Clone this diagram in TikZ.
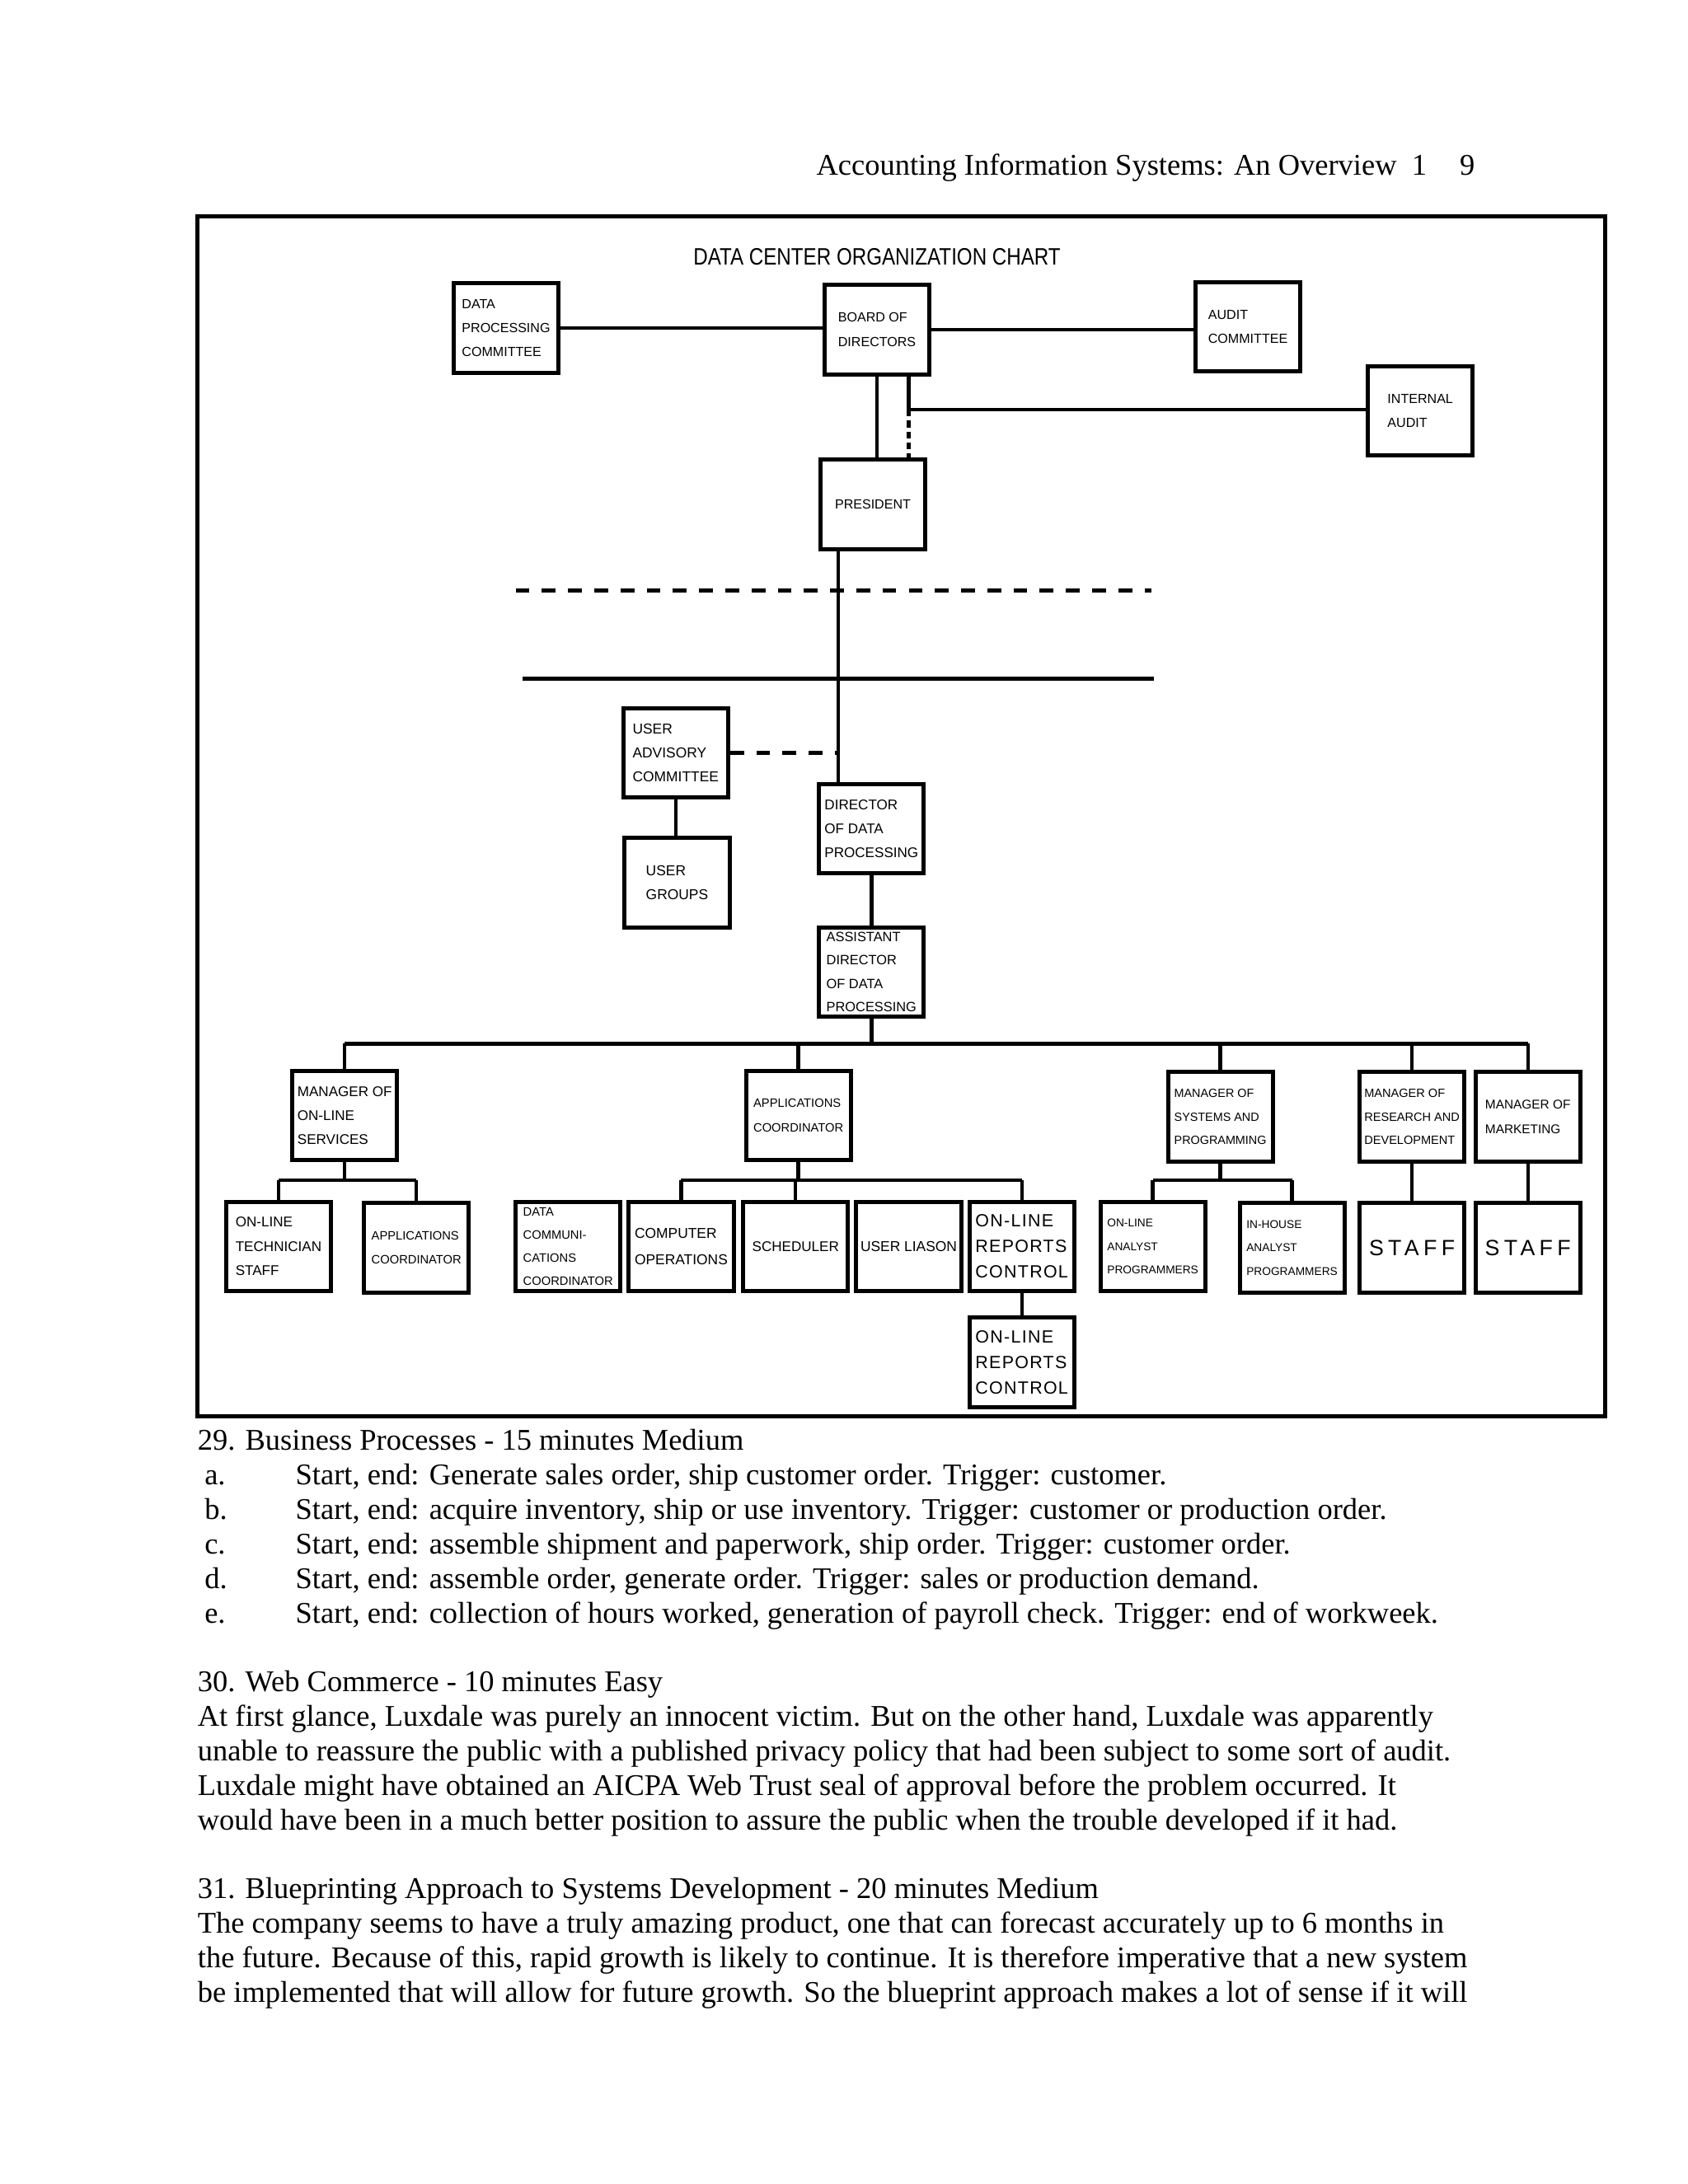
\documentclass[tikz,border=0pt]{standalone}
\usepackage{fontspec}
\usepackage{graphicx}
\setmainfont{Liberation Serif}
\newfontfamily\chartfont{Liberation Sans}
\newfontfamily\chartwide[LetterSpace=6]{Liberation Sans}
\newfontfamily\staffwide[LetterSpace=20]{Liberation Sans}
\usetikzlibrary{positioning,calc}

\tikzset{
  orgbox/.style={draw, line width=1.5pt, minimum width=38pt, minimum height=32.5pt,
    inner xsep=1.5pt, inner ysep=1pt, align=left, font=\chartfont\fontsize{#1}{8.75}\selectfont},
  orgbox/.default=4.8,
  orgbig/.style={orgbox, font=\chartwide\fontsize{6.4}{9.3}\selectfont},
  orgstaff/.style={orgbox, font=\staffwide\fontsize{8}{9}\selectfont},
  link/.style={line width=1.3pt},
  dashlink/.style={line width=1.5pt, dash pattern=on 5pt off 4.5pt},
  bodytext/.style={anchor=base west, inner sep=0pt, font=\fontsize{10.9}{12.5}\selectfont},
}

\begin{document}
\begin{tikzpicture}[x=0.5pt,y=-0.5pt]
\useasboundingbox (0,0) rectangle (1224,1584);

% 머리말
\node[bodytext, anchor=base east] (runhead) at (1070,127) {Accounting Information Systems: An Overview\ \ 1\hspace{12pt}9};

% 도표 틀과 제목
\draw[line width=1.5pt] (143,157) rectangle (1164,1027);
\node[font=\chartfont\fontsize{8.6}{10}\selectfont] (title) at (636,186) {\scalebox{0.84}[1]{DATA CENTER ORGANIZATION CHART}};

% 상단: 이사회와 위원회
\node[orgbox] (dpc) at (367,238) {DATA\\PROCESSING\\COMMITTEE};
\node[orgbox] (board) at (636,239) {BOARD OF\\DIRECTORS};
\node[orgbox] (audit) at (905,237) {AUDIT\\COMMITTEE};
\node[orgbox] (intaudit) at (1030,298) {INTERNAL\\AUDIT};
\node[orgbox] (pres) at (633,366) {PRESIDENT};

\coordinate (bj) at (659,297);
\coordinate (spine) at (608,500);
\draw[link] (dpc.east) -- (dpc.east -| board.west);
\draw[link] (board.east) -- (board.east -| audit.west);
\draw[link] (board.south) -- (board.south |- pres.north);
\draw[link] (bj |- board.south) -- (bj) -- (bj -| intaudit.west);
\draw[link, dash pattern=on 2.5pt off 1.5pt] (bj) -- (bj |- pres.north);

% 가로 구분선 (점선, 실선)
\coordinate (dashL) at (374,428);
\coordinate (dashR) at (835,428);
\coordinate (lineL) at (379,492);
\coordinate (lineR) at (837,492);
\draw[dashlink] (dashL) -- (dashR);
\draw[line width=1.5pt] (lineL) -- (lineR);

% 중간: 이사 / 부이사
\node[orgbox=5.2] (uac) at (490,546) {USER\\ADVISORY\\COMMITTEE};
\node[orgbox=5.2] (ugroups) at (491,640) {USER\\GROUPS};
\node[orgbox=5.1] (dir) at (632,601) {DIRECTOR\\OF DATA\\PROCESSING};
\node[orgbox=4.9, inner ysep=0pt, font=\chartfont\fontsize{4.9}{8.5}\selectfont] (asst) at (632,705) {ASSISTANT\\DIRECTOR\\OF DATA\\PROCESSING};

\draw[link] (pres.south -| spine) -- (dir.north -| spine);
\draw[dashlink] (uac.east) -- (uac.east -| spine);
\draw[link] (uac.south) -- (uac.south |- ugroups.north);
\draw[link] (dir.south) -- (dir.south |- asst.north);

% 관리자 단계
\node[orgbox=5.1] (mgrol) at (250,809) {MANAGER OF\\ON-LINE\\SERVICES};
\node[orgbox=4.4] (appco) at (579,809) {APPLICATIONS\\COORDINATOR};
\node[orgbox=4.3, font=\chartfont\fontsize{4.3}{8.5}\selectfont] (mgrsys) at (885,810) {MANAGER OF\\SYSTEMS AND\\PROGRAMMING};
\node[orgbox=4.35, font=\chartfont\fontsize{4.35}{8.5}\selectfont] (mgrrd) at (1024,810) {MANAGER OF\\RESEARCH AND\\DEVELOPMENT};
\node[orgbox=4.6] (mgrmkt) at (1108,810) {MANAGER OF\\MARKETING};

\coordinate (busy) at (0,757);
\draw[link] (asst.south) -- (asst.south |- busy);
\draw[link] (mgrol.north |- busy) -- (mgrmkt.north |- busy);
\foreach \m in {mgrol,appco,mgrsys,mgrrd,mgrmkt}
  \draw[link] (\m.north |- busy) -- (\m.north);

% 하단: 실무 단계
\node[orgbox=5.1] (olts) at (202,904) {ON-LINE\\TECHNICIAN\\STAFF};
\node[orgbox=4.4] (appco2) at (302,905) {APPLICATIONS\\COORDINATOR};
\node[orgbox=4.4, inner ysep=0pt, font=\chartfont\fontsize{4.4}{8.4}\selectfont] (dcc) at (412,904) {DATA\\COMMUNI-\\CATIONS\\COORDINATOR};
\node[orgbox=5.2, font=\chartfont\fontsize{5.2}{9.5}\selectfont] (compops) at (494,904) {COMPUTER\\OPERATIONS};
\node[orgbox=5.1] (sched) at (577,904) {SCHEDULER};
\node[orgbox=5.2] (liason) at (659,904) {USER LIASON};
\node[orgbig] (olrc) at (741,904) {ON-LINE\\REPORTS\\CONTROL};
\node[orgbig] (olrc2) at (741,988) {ON-LINE\\REPORTS\\CONTROL};
\node[orgbox=4.1, font=\chartfont\fontsize{4.1}{8.5}\selectfont] (olap) at (836,904) {ON-LINE\\ANALYST\\PROGRAMMERS};
\node[orgbox=4.1, font=\chartfont\fontsize{4.1}{8.5}\selectfont] (ihap) at (937,905) {IN-HOUSE\\ANALYST\\PROGRAMMERS};
\node[orgstaff] (staffrd) at (1024,905) {STAFF};
\node[orgstaff] (staffmkt) at (1108,905) {STAFF};

\coordinate (suby) at (0,856);
\draw[link] (mgrol.south) -- (mgrol.south |- suby);
\draw[link] (olts.north |- suby) -- (appco2.north |- suby);
\foreach \c in {olts,appco2}
  \draw[link] (\c.north |- suby) -- (\c.north);
\draw[link] (appco.south) -- (appco.south |- suby);
\draw[link] (compops.north |- suby) -- (olrc.north |- suby);
\foreach \c in {compops,sched,olrc}
  \draw[link] (\c.north |- suby) -- (\c.north);
\draw[link] (mgrsys.south) -- (mgrsys.south |- suby);
\draw[link] (olap.north |- suby) -- (ihap.north |- suby);
\foreach \c in {olap,ihap}
  \draw[link] (\c.north |- suby) -- (\c.north);
\draw[link] (olrc.south) -- (olrc2.north);
\draw[link] (mgrrd.south) -- (staffrd.north);
\draw[link] (mgrmkt.south) -- (staffmkt.north);

% 본문: 29번
\node[bodytext] (q29) at (143,1052) {29. Business Processes - 15 minutes Medium};
\foreach \lab/\txt [count=\i from 0] in {
  a./{Start, end: Generate sales order, ship customer order. Trigger: customer.},
  b./{Start, end: acquire inventory, ship or use inventory. Trigger: customer or production order.},
  c./{Start, end: assemble shipment and paperwork, ship order. Trigger: customer order.},
  d./{Start, end: assemble order, generate order. Trigger: sales or production demand.},
  e./{Start, end: collection of hours worked, generation of payroll check. Trigger: end of workweek.}}
{
  \node[bodytext] (bp\i) at (148,{1077+25*\i}) {\lab};
  \node[bodytext] (bpt\i) at (214,{1077+25*\i}) {\txt};
}

% 본문: 30번
\node[bodytext] (q30) at (143,1227) {30. Web Commerce - 10 minutes Easy};
\foreach \txt [count=\i from 0] in {
  {At first glance, Luxdale was purely an innocent victim. But on the other hand, Luxdale was apparently},
  {unable to reassure the public with a published privacy policy that had been subject to some sort of audit.},
  {Luxdale might have obtained an AICPA Web Trust seal of approval before the problem occurred. It},
  {would have been in a much better position to assure the public when the trouble developed if it had.}}
  \node[bodytext] (web\i) at (143,{1252+25*\i}) {\txt};

% 본문: 31번
\node[bodytext] (q31) at (143,1377) {31. Blueprinting Approach to Systems Development - 20 minutes Medium};
\foreach \txt [count=\i from 0] in {
  {The company seems to have a truly amazing product, one that can forecast accurately up to 6 months in},
  {the future. Because of this, rapid growth is likely to continue. It is therefore imperative that a new system},
  {be implemented that will allow for future growth. So the blueprint approach makes a lot of sense if it will}}
  \node[bodytext] (blue\i) at (143,{1402+25*\i}) {\txt};

\end{tikzpicture}
\end{document}
